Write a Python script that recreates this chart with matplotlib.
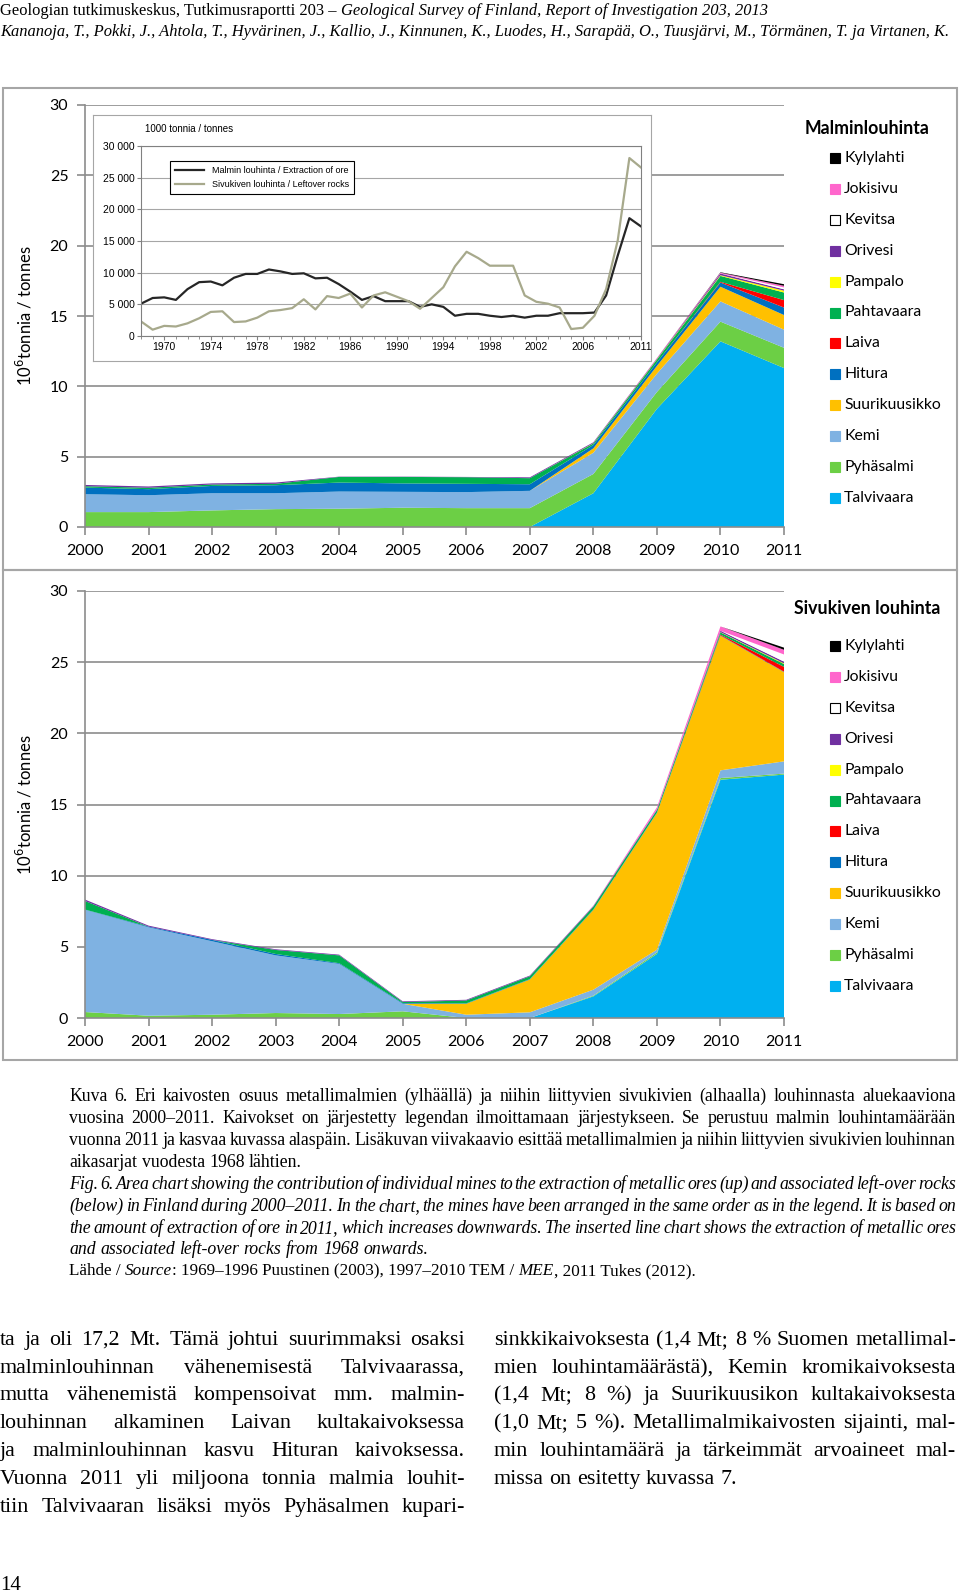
import numpy as np
import matplotlib
matplotlib.use("Agg")
from matplotlib import pyplot as plt
from matplotlib.patches import Rectangle
from matplotlib.ticker import FuncFormatter, MultipleLocator

W, H = 960, 1595
SANS = "Lato"
SERIF = "Liberation Serif"
GRID = "#8C8C8C"

# ---------------------------------------------------------------- data
years = np.arange(2000, 2012)
mines = ["Talvivaara", "Pyhäsalmi", "Kemi", "Suurikuusikko", "Hitura", "Laiva",
         "Pahtavaara", "Pampalo", "Orivesi", "Kevitsa", "Jokisivu", "Kylylahti"]
mine_colors = ["#00B0F0", "#6CCF45", "#7FB2E2", "#FFC000", "#0070C0", "#FF0000",
               "#00B050", "#FFFF00", "#7030A0", "#FFFFFF", "#FF66CC", "#000000"]

# ore extraction, million tonnes
ore_talvivaara = [0, 0, 0, 0, 0, 0, 0, 0, 2.4, 8.4, 13.2, 11.3]
ore_pyhasalmi = [1.06, 1.06, 1.18, 1.27, 1.30, 1.37, 1.34, 1.34, 1.37, 1.20, 1.40, 1.44]
ore_kemi = [1.27, 1.20, 1.22, 1.13, 1.22, 1.13, 1.14, 1.23, 1.51, 1.30, 1.44, 1.29]
ore_suurikuusikko = [0, 0, 0, 0, 0, 0, 0, 0, 0.31, 0.55, 1.04, 1.04]
ore_hitura = [0.47, 0.43, 0.52, 0.57, 0.64, 0.60, 0.59, 0.47, 0.24, 0.25, 0.30, 0.53]
ore_laiva = [0, 0, 0, 0, 0, 0, 0, 0, 0, 0, 0.05, 0.53]
ore_pahtavaara = [0.10, 0.10, 0.10, 0.10, 0.40, 0.46, 0.47, 0.43, 0.11, 0.20, 0.42, 0.54]
ore_pampalo = [0, 0, 0, 0, 0, 0, 0, 0, 0.02, 0.03, 0.05, 0.13]
ore_orivesi = [0.09, 0.09, 0.08, 0.09, 0.02, 0.02, 0.02, 0.06, 0.06, 0.05, 0.12, 0.10]
ore_kevitsa = [0, 0, 0, 0, 0, 0, 0, 0, 0, 0, 0, 0.13]
ore_jokisivu = [0, 0, 0, 0, 0, 0, 0, 0, 0, 0.03, 0.06, 0.12]
ore_kylylahti = [0, 0, 0, 0, 0, 0, 0, 0, 0, 0, 0.03, 0.11]

# left-over rock extraction, million tonnes
rock_talvivaara = [0, 0, 0, 0, 0, 0, 0, 0, 1.52, 4.50, 16.74, 17.10]
rock_pyhasalmi = [0.42, 0.16, 0.23, 0.35, 0.28, 0.47, 0, 0, 0.05, 0.10, 0.12, 0.07]
rock_kemi = [7.18, 6.21, 5.16, 4.05, 3.52, 0.53, 0.23, 0.40, 0.42, 0.20, 0.54, 0.86]
rock_suurikuusikko = [0, 0, 0, 0, 0, 0, 0.77, 2.30, 5.60, 9.60, 9.46, 6.27]
rock_hitura = [0.02, 0.05, 0.10, 0.10, 0.05, 0.05, 0.03, 0.03, 0.03, 0.03, 0.03, 0.03]
rock_laiva = [0, 0, 0, 0, 0, 0, 0, 0, 0, 0, 0.05, 0.34]
rock_pahtavaara = [0.60, 0, 0, 0.28, 0.55, 0.07, 0.20, 0.20, 0.20, 0.17, 0.15, 0.20]
rock_pampalo = [0, 0, 0, 0, 0, 0, 0, 0, 0, 0, 0.02, 0.05]
rock_orivesi = [0.10, 0.07, 0.05, 0.05, 0.05, 0.05, 0.05, 0.05, 0.05, 0.05, 0.10, 0.12]
rock_kevitsa = [0, 0, 0, 0, 0, 0, 0, 0, 0, 0, 0, 0.50]
rock_jokisivu = [0, 0, 0, 0, 0, 0, 0, 0, 0.02, 0.15, 0.30, 0.33]
rock_kylylahti = [0, 0, 0, 0, 0, 0, 0, 0, 0, 0, 0, 0.15]

ore = [ore_talvivaara, ore_pyhasalmi, ore_kemi, ore_suurikuusikko, ore_hitura, ore_laiva,
       ore_pahtavaara, ore_pampalo, ore_orivesi, ore_kevitsa, ore_jokisivu, ore_kylylahti]
rock = [rock_talvivaara, rock_pyhasalmi, rock_kemi, rock_suurikuusikko, rock_hitura, rock_laiva,
        rock_pahtavaara, rock_pampalo, rock_orivesi, rock_kevitsa, rock_jokisivu, rock_kylylahti]

# inset time series, 1000 tonnes
inset_years = np.arange(1968, 2012)
ore_total = [5100, 6000, 6100, 5700, 7400, 8500, 8600, 8000, 9200, 9800, 9800, 10500,
             10200, 9800, 9900, 9100, 9200, 8200, 7000, 5700, 6300, 5500, 5500, 5500,
             4600, 5000, 4600, 3200, 3500, 3500, 3200, 3000, 3200, 2900, 3200, 3200,
             3600, 3600, 3600, 3700, 6400, 12700, 18600, 17300]
rock_total = [2300, 1000, 1600, 1500, 2000, 2800, 3800, 3900, 2200, 2300, 2900, 3900,
              4100, 4400, 5800, 4200, 6300, 6000, 6700, 4500, 6400, 6900, 6200, 5500,
              4300, 6000, 7700, 11000, 13300, 12300, 11100, 11100, 11100, 6400, 5400, 5100,
              4500, 1100, 1300, 3200, 7400, 15100, 28100, 26600]

inset_xticks = [1970, 1974, 1978, 1982, 1986, 1990, 1994, 1998, 2002, 2006, 2011]

header_1 = [("Geologian tutkimuskeskus, Tutkimusraportti 203 – ", "normal"),
            ("Geological Survey of Finland, Report of Investigation 203, 2013", "italic")]
header_2 = ("Kananoja, T., Pokki, J., Ahtola, T., Hyvärinen, J., Kallio, J., Kinnunen, K., "
            "Luodes, H., Sarapää, O., Tuusjärvi, M., Törmänen, T. ja Virtanen, K.")

caption_fi = ["Kuva 6. Eri kaivosten osuus metallimalmien (ylhäällä) ja niihin liittyvien sivukivien (alhaalla) louhinnasta aluekaaviona",
              "vuosina 2000–2011. Kaivokset on järjestetty legendan ilmoittamaan järjestykseen. Se perustuu malmin louhintamäärään",
              "vuonna 2011 ja kasvaa kuvassa alaspäin. Lisäkuvan viivakaavio esittää metallimalmien ja niihin liittyvien sivukivien louhinnan",
              "aikasarjat vuodesta 1968 lähtien."]
caption_en = ["Fig. 6. Area chart showing the contribution of individual mines to the extraction of metallic ores (up) and associated left-over rocks",
              "(below) in Finland during 2000–2011. In the chart, the mines have been arranged in the same order as in the legend. It is based on",
              "the amount of extraction of ore in 2011, which increases downwards. The inserted line chart shows the extraction of metallic ores",
              "and associated left-over rocks from 1968 onwards."]
source_line = [("Lähde / ", "normal"), ("Source", "italic"),
               (": 1969–1996 Puustinen (2003), 1997–2010 TEM / ", "normal"), ("MEE", "italic"),
               (", 2011 Tukes (2012).", "normal")]

body_left = ["ta ja oli 17,2 Mt. Tämä johtui suurimmaksi osaksi",
             "malminlouhinnan vähenemisestä Talvivaarassa,",
             "mutta vähenemistä kompensoivat mm. malmin-",
             "louhinnan alkaminen Laivan kultakaivoksessa",
             "ja malminlouhinnan kasvu Hituran kaivoksessa.",
             "Vuonna 2011 yli miljoona tonnia malmia louhit-",
             "tiin Talvivaaran lisäksi myös Pyhäsalmen kupari-"]
body_right = ["sinkkikaivoksesta (1,4 Mt; 8 % Suomen metallimal-",
              "mien louhintamäärästä), Kemin kromikaivoksesta",
              "(1,4 Mt; 8 %) ja Suurikuusikon kultakaivoksesta",
              "(1,0 Mt; 5 %). Metallimalmikaivosten sijainti, mal-",
              "min louhintamäärä ja tärkeimmät arvoaineet mal-",
              "missa on esitetty kuvassa 7."]

# ---------------------------------------------------------------- setup
fig = plt.figure(figsize=(W / 100, H / 100), dpi=100)
fig.patch.set_facecolor("white")
renderer = fig.canvas.get_renderer()


def box(x0, y0, x1, y1):
    """pixel box (top-left origin) -> figure fraction rect"""
    return [x0 / W, 1 - y1 / H, (x1 - x0) / W, (y1 - y0) / H]


page = fig.add_axes([0, 0, 1, 1])
page.set_xlim(0, W)
page.set_ylim(H, 0)
page.axis("off")


def width(s, **kw):
    t = page.text(0, 0, s + "|", **kw)
    w = t.get_window_extent(renderer).width
    t.remove()
    t = page.text(0, 0, "|", **kw)
    w -= t.get_window_extent(renderer).width
    t.remove()
    return w


def fits(line, x0, x1, size, style):
    words = line.split(" ")
    ws = sum(width(w, fontsize=size, family=SERIF, style=style) for w in words)
    sp = width(" ", fontsize=size, family=SERIF, style=style)
    return ws + 0.45 * sp * (len(words) - 1) <= x1 - x0


def paragraph(lines, x0, x1, ys, size, style="normal", last_left=True):
    # one common font size per paragraph, shrunk until the tightest line fits
    while not all(fits(l, x0, x1, size, style) for l in lines):
        size -= 0.1
    kw = dict(family=SERIF, style=style, fontsize=size)
    for i, line in enumerate(lines):
        words = line.split(" ")
        ws = [width(w, **kw) for w in words]
        last = last_left and i == len(lines) - 1
        gap = width(" ", **kw) if last else (x1 - x0 - sum(ws)) / (len(words) - 1)
        x = x0
        for w, wd in zip(words, ws):
            page.text(x, ys[i], w, va="baseline", **kw)
            x += wd + gap
    return size


def run(segs, x, y, size):
    for s, style in segs:
        page.text(x, y, s, fontsize=size, family=SERIF, style=style, va="baseline")
        x += width(s, fontsize=size, family=SERIF, style=style)


# ---------------------------------------------------------------- frames
for y0, y1 in [(88, 570), (570, 1060)]:
    page.add_patch(Rectangle((3, y0), 954, y1 - y0, fill=False, ec="#A6A6A6", lw=1.5))


# ---------------------------------------------------------------- area charts
def area_chart(rect, series, title, title_y, legend_y):
    ax = fig.add_axes(box(*rect))
    ax.set_facecolor("none")
    ax.stackplot(years, *series, colors=mine_colors, linewidth=0)
    ax.set_xlim(2000, 2011)
    ax.set_ylim(0, 30)
    ax.set_xticks(years)
    ax.set_yticks(range(0, 31, 5))
    ax.yaxis.grid(True, color=GRID, lw=1.2)
    ax.set_axisbelow(True)
    for s in ("top", "right"):
        ax.spines[s].set_visible(False)
    for s in ("left", "bottom"):
        ax.spines[s].set_color(GRID)
        ax.spines[s].set_linewidth(1.2)
    ax.tick_params(color=GRID, labelcolor="black", length=6, width=1.2, labelsize=11.5)
    ax.tick_params(axis="x", pad=6)
    ax.tick_params(axis="y", pad=6)
    for lab in ax.get_xticklabels() + ax.get_yticklabels():
        lab.set_family(SANS)
    ax.set_ylabel(r"10$^{6}$tonnia / tonnes", fontsize=12, family=SANS)
    ax.yaxis.set_label_coords(-0.072, 0.5)

    page.text(rect[2] + 83, title_y, title, fontsize=12.8, weight="bold",
              family=SANS, ha="center", va="center")
    for i, k in enumerate(range(len(mines) - 1, -1, -1)):
        yc = legend_y + i * 30.9
        ec = "black" if mine_colors[k] == "#FFFFFF" else mine_colors[k]
        page.add_patch(Rectangle((830, yc - 5), 10, 10, fc=mine_colors[k], ec=ec, lw=0.8))
        page.text(844, yc, mines[k], fontsize=11.3, family=SANS, va="center")
    return ax


area_chart((85, 105, 784, 527), ore, "Malminlouhinta", 129, 158)
area_chart((85, 591, 784, 1018), rock, "Sivukiven louhinta", 609, 646)

# ---------------------------------------------------------------- inset line chart
frame = fig.add_axes(box(93, 115, 651, 361))
frame.set_xticks([])
frame.set_yticks([])
for s in frame.spines.values():
    s.set_color("#A6A6A6")
frame.set_zorder(3)

ins = fig.add_axes(box(141, 146, 641, 336))
ins.set_zorder(4)
ins.plot(inset_years, ore_total, color="#262626", lw=1.6,
         label="Malmin louhinta / Extraction of ore")
ins.plot(inset_years, rock_total, color="#A7A98C", lw=1.6,
         label="Sivukiven louhinta / Leftover rocks")
ins.set_xlim(1968, 2011)
ins.set_ylim(0, 30000)
ins.set_xticks(inset_xticks)
ins.xaxis.set_minor_locator(MultipleLocator(1))
ins.set_yticks(range(0, 30001, 5000))
ins.yaxis.set_major_formatter(FuncFormatter(lambda v, p: f"{int(v):,}".replace(",", " ")))
ins.yaxis.grid(True, color="#A6A6A6", lw=0.8)
ins.set_axisbelow(True)
for s in ins.spines.values():
    s.set_color("#808080")
    s.set_linewidth(0.8)
ins.tick_params(labelsize=7.5, length=3, width=0.8, pad=1.5, color="#808080")
ins.tick_params(which="minor", length=2, width=0.6, color="#808080")
for lab in ins.get_xticklabels() + ins.get_yticklabels():
    lab.set_family("Liberation Sans")
leg = ins.legend(loc="upper left", bbox_to_anchor=(0.058, 0.921), borderaxespad=0,
                 prop={"family": "Liberation Sans", "size": 6.5}, fancybox=False,
                 edgecolor="black", framealpha=1, handlelength=3.2, borderpad=0.6,
                 labelspacing=0.5)
leg.get_frame().set_linewidth(0.8)
fig.text(145 / W, 1 - 129 / H, "1000 tonnia / tonnes", fontsize=7,
         family="Liberation Sans", va="center", zorder=10)

# ---------------------------------------------------------------- page text
h2 = width(header_2, fontsize=12, family=SERIF, style="italic")
hsize = 12 * 950 / h2
run(header_1, 0, 15, hsize)
page.text(0, 36, header_2, fontsize=hsize, family=SERIF, style="italic", va="baseline")

cap_y = [1101, 1123, 1145, 1167, 1189, 1211, 1233, 1254, 1275]
paragraph(caption_fi, 69, 956, cap_y[:4], 12.8)
paragraph(caption_en, 69, 956, cap_y[4:8], 12.8, style="italic")
run(source_line, 69, cap_y[8], 12.3)

body_y = [1345, 1373, 1400, 1428, 1456, 1484, 1512]
paragraph(body_left, 0, 465, body_y, 15.8, last_left=False)
paragraph(body_right, 494, 956, body_y, 15.8)

page.text(0, 1590, "14", fontsize=15, family=SERIF, va="baseline")

fig.savefig("out.png", dpi=100, facecolor="white")
